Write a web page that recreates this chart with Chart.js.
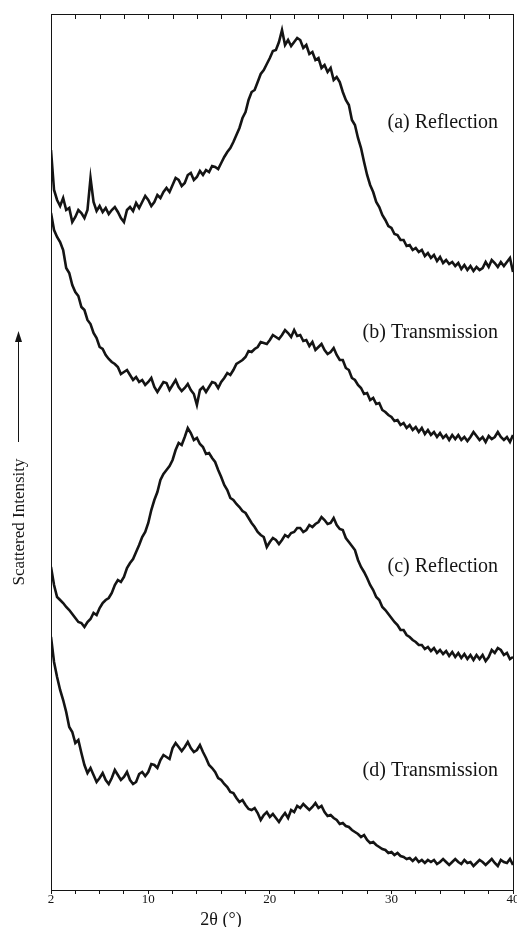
<!DOCTYPE html>
<html>
<head>
<meta charset="utf-8">
<script src="https://cdn.jsdelivr.net/npm/chart.js@4.4.1/dist/chart.umd.min.js"></script>
<style>
  html, body { margin: 0; padding: 0; background: #fff; }
  #wrap { width: 517px; height: 927px; }
</style>
</head>
<body>
<div id="wrap"><canvas id="chart" width="517" height="927"></canvas></div>
<script>
// 2-theta sampling grid (degrees)
const THETA = [
  2,2.25,2.5,2.75,3,3.25,3.5,3.75,4,4.25,4.5,4.75,5,5.25,5.5,5.75,6,6.25,6.5,6.75,
  7,7.25,7.5,7.75,8,8.25,8.5,8.75,9,9.25,9.5,9.75,10,10.25,10.5,10.75,11,11.25,11.5,11.75,
  12,12.25,12.5,12.75,13,13.25,13.5,13.75,14,14.25,14.5,14.75,15,15.25,15.5,15.75,16,16.25,16.5,16.75,
  17,17.25,17.5,17.75,18,18.25,18.5,18.75,19,19.25,19.5,19.75,20,20.25,20.5,20.75,21,21.25,21.5,21.75,
  22,22.25,22.5,22.75,23,23.25,23.5,23.75,24,24.25,24.5,24.75,25,25.25,25.5,25.75,26,26.25,26.5,26.75,
  27,27.25,27.5,27.75,28,28.25,28.5,28.75,29,29.25,29.5,29.75,30,30.25,30.5,30.75,31,31.25,31.5,31.75,
  32,32.25,32.5,32.75,33,33.25,33.5,33.75,34,34.25,34.5,34.75,35,35.25,35.5,35.75,36,36.25,36.5,36.75,
  37,37.25,37.5,37.75,38,38.25,38.5,38.75,39,39.25,39.5,39.75,40
];

// scattered intensity, curves already offset for stacking (arbitrary units)
const REFLECTION_A = [
  740,700,690,684, 692,680,682,668, 673,680,677,672, 680,712,688,679, 684,678,682,676,
  680,683,678,672, 668,680,683,679, 687,682,688,694, 690,684,688,695, 692,698,702,698,
  705,712,710,704, 707,715,717,710, 713,719,715,720, 718,724,723,721, 727,733,738,742,
  748,755,762,772, 778,790,798,800, 808,816,820,826, 832,839,840,848, 860,845,850,844,
  848,852,850,842, 845,836,838,830, 832,822,825,818, 822,810,813,808, 798,790,785,770,
  765,752,742,728, 715,705,698,688, 683,675,670,664, 662,656,655,650, 650,644,645,640,
  642,638,640,634, 637,632,635,629, 633,627,630,626, 628,624,627,621, 625,620,624,619,
  623,620,622,628, 623,630,627,623, 628,624,628,632, 618
];

const TRANSMISSION_B = [
  677,660,653,648, 640,622,617,605, 598,594,583,580, 570,566,557,552, 543,541,535,531,
  528,526,523,516, 518,520,515,510, 513,508,510,505, 508,512,503,498, 503,508,507,500,
  505,510,503,499, 502,506,500,496, 485,500,503,498, 503,508,507,502, 508,512,517,515,
  520,526,528,530, 533,539,538,541, 543,548,547,546, 550,555,553,551, 555,560,557,553,
  560,554,555,549, 550,544,548,540, 543,546,540,536, 538,542,535,530, 530,522,520,512,
  510,505,502,496, 497,490,492,486, 487,480,478,475, 473,469,470,465, 467,462,465,460,
  463,458,462,456, 460,455,458,453, 457,452,455,450, 455,451,455,450, 453,449,453,458,
  454,450,453,448, 454,451,453,458, 453,450,453,448, 455
];

const REFLECTION_C = [
  323,305,293,290, 287,283,280,276, 272,268,267,263, 268,271,277,275, 282,287,290,292,
  297,305,310,308, 313,322,327,331, 338,345,353,358, 367,380,390,398, 410,416,420,424,
  430,440,447,445, 453,462,457,450, 452,446,443,436, 437,432,428,420, 413,405,400,392,
  390,386,383,379, 377,372,367,363, 358,355,353,343, 348,352,350,346, 350,355,353,357,
  358,362,362,358, 360,365,363,366, 368,373,370,366, 367,372,365,361, 360,352,348,344,
  340,330,323,318, 312,305,300,293, 290,283,280,276, 272,268,265,260, 260,255,253,250,
  248,245,245,241, 243,239,242,237, 240,236,239,234, 238,233,237,232, 236,231,235,230,
  235,231,235,229, 233,240,237,242, 240,235,237,231, 233
];

const TRANSMISSION_D = [
  253,228,213,200, 190,178,163,158, 147,150,137,125, 117,122,115,108, 112,117,110,106,
  112,120,115,110, 113,118,110,106, 108,116,118,114, 118,126,125,122, 130,135,133,131,
  142,147,143,139, 143,148,142,138, 140,145,138,132, 125,122,118,112, 110,106,103,98,
  97,92,88,90, 85,81,80,82, 77,70,75,78, 73,76,72,68, 73,77,72,80,
  78,84,82,86, 83,80,83,87, 82,84,78,74, 75,72,70,66, 67,64,63,60,
  58,56,53,55, 50,47,48,45, 43,41,40,37, 38,35,37,34, 33,31,32,29,
  32,28,30,27, 30,28,30,26, 28,31,28,25, 28,31,28,26, 30,27,28,24,
  27,30,28,25, 28,31,27,24, 30,28,27,31, 25
];

const CURVE_LABELS = ['(a) Reflection', '(b) Transmission', '(c) Reflection', '(d) Transmission'];
const X_TICK_LABELS = [2, 10, 20, 30, 40];

// layout (pixels)
const LABEL_RIGHT = 498;
const LABEL_Y = [123, 333, 567, 771];
const INK = '#141414';
const SERIF = '"Liberation Serif", "DejaVu Serif", serif';

const SERIES = [REFLECTION_A, TRANSMISSION_B, REFLECTION_C, TRANSMISSION_D];

// frame, inner top ticks, curve labels and axis titles
const decorations = {
  id: 'decorations',
  afterDraw(chart) {
    const { ctx, chartArea: a, scales } = chart;
    const xs = scales.x;
    ctx.save();
    ctx.strokeStyle = INK;
    ctx.lineWidth = 1;
    ctx.strokeRect(a.left + 0.5, a.top + 0.5, a.right - a.left, a.bottom - a.top);

    // ticks hanging from the top border
    xs.ticks.forEach(t => {
      const px = Math.round(xs.getPixelForValue(t.value)) + 0.5;
      ctx.beginPath();
      ctx.moveTo(px, a.top);
      ctx.lineTo(px, a.top + 5);
      ctx.stroke();
    });

    ctx.fillStyle = INK;
    ctx.font = '20px ' + SERIF;
    ctx.textAlign = 'right';
    ctx.textBaseline = 'middle';
    CURVE_LABELS.forEach((txt, i) => ctx.fillText(txt, LABEL_RIGHT, LABEL_Y[i]));

    // x title
    ctx.font = '18px ' + SERIF;
    ctx.textAlign = 'center';
    ctx.textBaseline = 'alphabetic';
    ctx.fillText('2\u03b8 (\u00b0)', 221, 925);

    // y title with arrow
    ctx.save();
    ctx.translate(24, 522);
    ctx.rotate(-Math.PI / 2);
    ctx.font = '17px ' + SERIF;
    ctx.textAlign = 'center';
    ctx.fillText('Scattered Intensity', 0, 0);
    ctx.restore();
    ctx.beginPath();
    ctx.moveTo(18.5, 442);
    ctx.lineTo(18.5, 338);
    ctx.stroke();
    ctx.beginPath();
    ctx.moveTo(18.5, 331);
    ctx.lineTo(15, 342);
    ctx.lineTo(22, 342);
    ctx.closePath();
    ctx.fill();
    ctx.restore();
  }
};

new Chart(document.getElementById('chart'), {
  type: 'line',
  data: {
    datasets: SERIES.map(s => ({
      data: THETA.map((t, i) => ({ x: t, y: s[i] })),
      borderColor: INK,
      borderWidth: 2.6,
      pointRadius: 0,
      tension: 0,
      fill: false
    }))
  },
  options: {
    responsive: false,
    animation: false,
    layout: { padding: { left: 51, right: 4, top: 14, bottom: 0 } },
    plugins: {
      legend: { display: false },
      tooltip: { enabled: false }
    },
    scales: {
      x: {
        type: 'linear',
        min: 2,
        max: 40,
        afterFit: s => { s.height = 37; s.paddingLeft = 0; s.paddingRight = 0; },
        border: { display: true, color: INK, width: 1 },
        grid: { display: true, drawOnChartArea: false, drawTicks: true, tickLength: 4, tickColor: INK },
        ticks: {
          stepSize: 2,
          autoSkip: false,
          maxRotation: 0,
          padding: -2,
          color: INK,
          font: { family: SERIF, size: 13 },
          callback: v => X_TICK_LABELS.includes(v) ? String(v) : ''
        }
      },
      y: {
        display: false,
        min: 0,
        max: 876
      }
    }
  },
  plugins: [decorations]
});
</script>
</body>
</html>
